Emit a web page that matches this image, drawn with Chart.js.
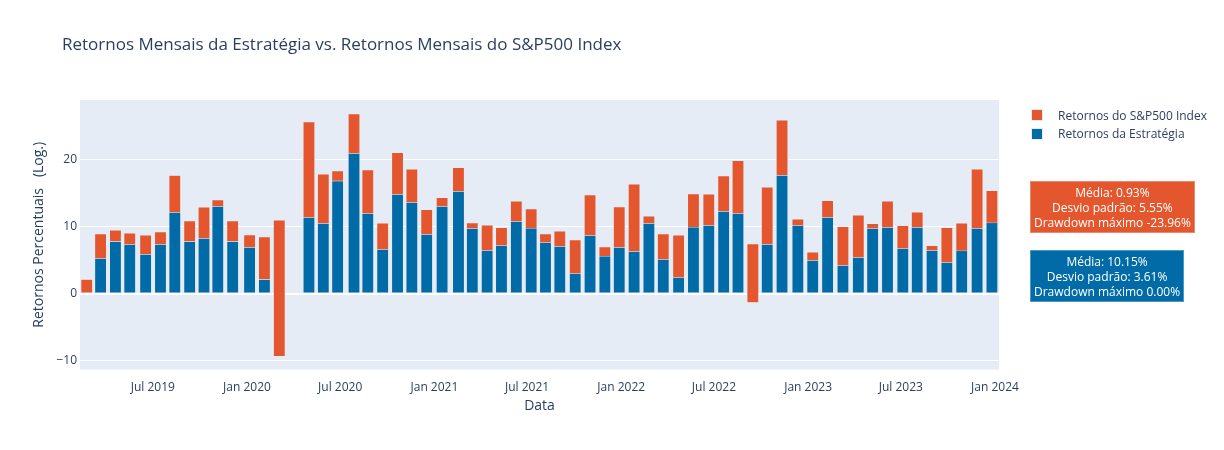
<!DOCTYPE html>
<html lang="pt">
<head>
<meta charset="utf-8">
<title>Retornos Mensais da Estratégia vs. S&amp;P500</title>
<script src="https://cdn.jsdelivr.net/npm/chart.js@4.4.1/dist/chart.umd.min.js"></script>
<style>
  body { margin: 0; background: #fff; font-family: 'Open Sans', 'DejaVu Sans', sans-serif; color: #2a3f5f; }
  #wrap { position: relative; width: 1224px; height: 450px; }
  #title { position: absolute; left: 62px; top: 35px; font-size: 17px; line-height: 17px; white-space: nowrap; }
  #legend { position: absolute; left: 1031px; top: 109px; font-size: 12px; }
  .legend-item { display: flex; align-items: center; height: 12px; margin-bottom: 6.5px; white-space: nowrap; }
  .legend-box { width: 12px; height: 12px; margin-right: 15px; box-sizing: border-box; border: 0.5px solid #E5ECF6; }
  .stats { position: absolute; left: 1030px; padding: 2.5px 3px; border: 1px solid rgba(255,255,255,0.3);
           color: #fff; font-size: 12px; line-height: 15px; text-align: center; white-space: nowrap; }
</style>
</head>
<body>
<div id="wrap">
  <canvas id="chart"></canvas>
  <div id="title">Retornos Mensais da Estratégia vs. Retornos Mensais do S&amp;P500 Index</div>
  <div id="legend"></div>
  <div class="stats" id="statsSp" style="top: 181px;"></div>
  <div class="stats" id="statsStrat" style="top: 250px;"></div>
</div>
<script>
// period end dates (approx. every 20 trading days)
const dates = [
  '2019-02-22', '2019-03-21', '2019-04-19', '2019-05-17', '2019-06-17', '2019-07-16',
  '2019-08-13', '2019-09-11', '2019-10-09', '2019-11-05', '2019-12-04', '2020-01-06',
  '2020-02-04', '2020-03-04', '2020-05-01', '2020-05-29', '2020-06-26', '2020-07-28',
  '2020-08-24', '2020-09-22', '2020-10-21', '2020-11-18', '2020-12-17', '2021-01-16',
  '2021-02-17', '2021-03-16', '2021-04-14', '2021-05-12', '2021-06-10', '2021-07-09',
  '2021-08-06', '2021-09-03', '2021-10-03', '2021-11-01', '2021-11-30', '2021-12-28',
  '2022-01-26', '2022-02-24', '2022-03-24', '2022-04-23', '2022-05-22', '2022-06-21',
  '2022-07-20', '2022-08-17', '2022-09-15', '2022-10-13', '2022-11-11', '2022-12-12',
  '2023-01-10', '2023-02-08', '2023-03-10', '2023-04-09', '2023-05-07', '2023-06-05',
  '2023-07-05', '2023-08-02', '2023-08-31', '2023-09-29', '2023-10-28', '2023-11-27',
  '2023-12-26'
];

// strategy returns (blue, bottom of the stack)
const stratReturns = [
  0, 5.25, 7.77, 7.33, 5.84, 7.33,
  12.1, 7.77, 8.22, 12.99, 7.77, 6.88,
  2.11, 10.9, 11.36, 10.46, 16.77, 20.89,
  11.95, 6.59, 14.78, 13.59, 8.82, 12.99,
  15.23, 9.72, 6.44, 7.18, 10.76, 9.76,
  7.63, 7.03, 3.01, 8.67, 5.59, 6.88,
  6.29, 10.46, 5.1, 2.41, 9.91, 10.16,
  12.25, 11.95, 7.38, 7.33, 17.61, 10.16,
  4.95, 11.36, 4.2, 5.39, 9.72, 9.87,
  6.74, 9.87, 6.44, 4.65, 6.38, 9.72,
  10.55
];

// S&P500 returns (red, stacked on top of the strategy)
const spReturns = [
  2.1, 3.62, 1.64, 1.67, 2.83, 1.83,
  5.5, 3.03, 4.62, 0.94, 3.03, 1.84,
  6.31, -20.21, 14.2, 7.3, 1.49, 5.86,
  6.45, 3.87, 6.2, 4.91, 3.67, 1.29,
  3.52, 0.78, 3.72, 2.63, 2.98, 2.83,
  1.24, 2.24, 4.96, 6.01, 1.34, 6.01,
  9.98, 1.05, 3.77, 6.26, 4.92, 4.62,
  5.26, 7.84, -8.7, 8.5, 8.2, 0.9,
  1.19, 2.47, 5.76, 6.26, 0.68, 3.87,
  3.36, 2.23, 0.68, 5.16, 4.08, 8.78,
  4.77
];

const xTickDates = ['2019-07-01', '2020-01-01', '2020-07-01', '2021-01-01', '2021-07-01',
  '2022-01-01', '2022-07-01', '2023-01-01', '2023-07-01', '2024-01-01'];
const xTickLabels = ['Jul 2019', 'Jan 2020', 'Jul 2020', 'Jan 2021', 'Jul 2021',
  'Jan 2022', 'Jul 2022', 'Jan 2023', 'Jul 2023', 'Jan 2024'];
const yTicks = [-10, 0, 10, 20];

const statsSp = ['Média: 0.93%', 'Desvio padrão: 5.55%', 'Drawdown máximo -23.96%'];
const statsStrat = ['Média: 10.15%', 'Desvio padrão: 3.61%', 'Drawdown máximo 0.00%'];

const RED = '#E4572E';
const BLUE = '#006BA6';
const TEXT = '#2a3f5f';
const FONT = "'Open Sans', 'DejaVu Sans', sans-serif";

const xs = dates.map(d => Date.parse(d));
// plotly-style stack: the S&P bar starts where the strategy bar ends
const spBars = xs.map((x, i) => ({ x: x, y: [stratReturns[i], stratReturns[i] + spReturns[i]] }));
const stratBars = xs.map((x, i) => ({ x: x, y: stratReturns[i] }));

const plotBg = {
  id: 'plotBg',
  beforeDraw(chart) {
    const { ctx, chartArea: a } = chart;
    ctx.save();
    ctx.fillStyle = '#E5ECF6';
    ctx.fillRect(a.left, a.top, a.right - a.left, a.bottom - a.top);
    ctx.restore();
  }
};

const barStyle = {
  grouped: false,
  barPercentage: 1,
  categoryPercentage: 1,
  maxBarThickness: 11.2,
  borderWidth: 0.5,
  borderColor: '#E5ECF6',
  borderSkipped: false
};

const chart = new Chart(document.getElementById('chart'), {
  type: 'bar',
  data: {
    datasets: [
      Object.assign({ label: 'Retornos do S&P500 Index', data: spBars, backgroundColor: RED }, barStyle),
      Object.assign({ label: 'Retornos da Estratégia', data: stratBars, backgroundColor: BLUE }, barStyle)
    ]
  },
  options: {
    responsive: true,
    maintainAspectRatio: false,
    animation: false,
    layout: { padding: { left: 0, right: 225, top: 100, bottom: 0 } },
    plugins: {
      legend: { display: false },
      tooltip: { enabled: false }
    },
    scales: {
      x: {
        type: 'linear',
        offset: false,
        min: Date.parse('2019-02-08T19:00:00Z'),
        max: Date.parse('2024-01-08T19:00:00Z'),
        afterBuildTicks: s => { s.ticks = xTickDates.map(d => ({ value: Date.parse(d) })); },
        afterFit: s => { s.height = 80.5; },
        grid: { display: false },
        border: { display: false },
        ticks: {
          autoSkip: false, maxRotation: 0, padding: 3, color: TEXT,
          font: { size: 12, family: FONT },
          callback: (v, i) => xTickLabels[i]
        },
        title: {
          display: true, text: 'Data', color: TEXT,
          font: { size: 14, family: FONT },
          padding: { top: 0, bottom: 35.9 }
        }
      },
      y: {
        min: -11.3,
        max: 28.84,
        afterBuildTicks: s => { s.ticks = yTicks.map(v => ({ value: v })); },
        afterFit: s => { s.width = 80; },
        grid: {
          color: '#ffffff',
          lineWidth: c => (c.tick && c.tick.value === 0 ? 2 : 1),
          drawTicks: false
        },
        border: { display: false },
        ticks: {
          padding: 3, color: TEXT,
          font: { size: 12, family: FONT },
          callback: v => (v < 0 ? '\u2212' + Math.abs(v) : String(v))
        },
        title: {
          display: true, text: 'Retornos Percentuais   (Log.)', color: TEXT,
          font: { size: 14, family: FONT },
          padding: { top: 30.6, bottom: 0 }
        }
      }
    }
  },
  plugins: [plotBg]
});

// legend built from the chart's own datasets
const legendEl = document.getElementById('legend');
chart.data.datasets.forEach(ds => {
  const item = document.createElement('div');
  item.className = 'legend-item';
  const box = document.createElement('div');
  box.className = 'legend-box';
  box.style.background = ds.backgroundColor;
  const label = document.createElement('span');
  label.textContent = ds.label;
  item.appendChild(box);
  item.appendChild(label);
  legendEl.appendChild(item);
});

function fillStats(id, lines, color) {
  const el = document.getElementById(id);
  el.style.background = color;
  el.innerHTML = lines.map(l => '<div>' + l + '</div>').join('');
}
fillStats('statsSp', statsSp, RED);
fillStats('statsStrat', statsStrat, BLUE);
</script>
</body>
</html>
